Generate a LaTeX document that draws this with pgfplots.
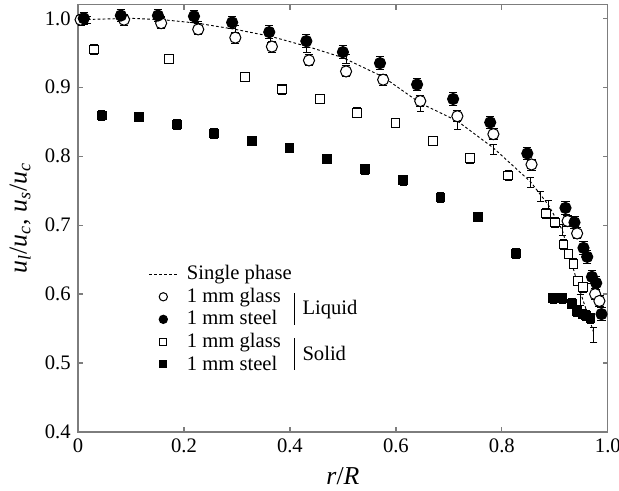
\documentclass[border=0pt]{standalone}
\usepackage{fontspec}
\setmainfont{Liberation Serif}
\usepackage{pgfplots}
\pgfplotsset{compat=1.18}
\definecolor{axgray}{RGB}{125,125,125}
\pgfplotsset{
  smallmark/.style={legend image code/.code={\path (0pt,0pt) (16pt,0pt); \draw[##1, mark size=#1] plot coordinates {(6.8pt,0pt)};}},
  shortline/.style={legend image code/.code={\path (0pt,0pt) (16pt,0pt); \draw[##1] (0pt,0pt) -- (13.6pt,0pt);}},
}

\pgfplotstableread{
x y
0.005 0.998
0.087 0.998
0.157 0.993
0.227 0.984
0.297 0.972
0.366 0.959
0.436 0.939
0.506 0.923
0.576 0.911
0.646 0.880
0.716 0.858
0.784 0.832
0.856 0.788
0.924 0.706
0.942 0.688
0.976 0.600
0.984 0.590
}\glassliq

\pgfplotstableread{
x y
0.011 1.000
0.081 1.004
0.151 1.004
0.219 1.003
0.291 0.994
0.361 0.980
0.431 0.967
0.500 0.951
0.570 0.935
0.640 0.904
0.708 0.883
0.778 0.849
0.848 0.804
0.920 0.725
0.937 0.704
0.954 0.667
0.961 0.654
0.970 0.625
0.978 0.616
0.988 0.571
}\steelliq

\pgfplotstableread{
x y
0.030 0.955
0.172 0.941
0.315 0.915
0.385 0.897
0.457 0.883
0.527 0.863
0.599 0.848
0.670 0.822
0.740 0.797
0.812 0.772
0.883 0.717
0.900 0.704
0.916 0.672
0.926 0.658
0.935 0.644
0.944 0.619
0.953 0.610
}\glasssol

\pgfplotstableread{
x y
0.045 0.859
0.115 0.857
0.187 0.846
0.257 0.833
0.329 0.822
0.399 0.812
0.470 0.796
0.542 0.781
0.614 0.765
0.684 0.740
0.755 0.712
0.827 0.659
0.897 0.594
0.914 0.594
0.932 0.586
0.942 0.575
0.952 0.571
0.959 0.569
0.967 0.565
}\steelsol

\pgfplotstableread{
x y
0.000 0.998
0.050 0.999
0.100 1.000
0.160 0.998
0.225 0.993
0.297 0.984
0.363 0.974
0.438 0.958
0.500 0.943
0.576 0.915
0.646 0.877
0.716 0.851
0.784 0.812
0.854 0.763
0.873 0.744
0.888 0.729
0.914 0.693
0.930 0.650
0.944 0.612
0.958 0.580
0.973 0.545
}\single

\pgfplotstableread{
x y e
0.018 0.997 0.005
0.158 0.997 0.005
0.228 0.990 0.005
0.297 0.983 0.006
0.363 0.971 0.006
0.432 0.957 0.006
0.506 0.941 0.007
0.646 0.872 0.007
0.716 0.846 0.007
0.784 0.810 0.007
0.854 0.762 0.007
0.873 0.742 0.007
0.888 0.729 0.007
0.914 0.693 0.008
0.948 0.591 0.008
0.973 0.541 0.011
}\singleerr

\begin{document}
\begin{tikzpicture}
\begin{axis}[
  scale only axis,
  width=257pt, height=207.3pt,
  xmin=0, xmax=1, ymin=0.4, ymax=1.02,
  xtick={0,0.2,0.4,0.6,0.8,1.0},
  xticklabels={0,0.2,0.4,0.6,0.8,1.0},
  ytick={0.4,0.5,0.6,0.7,0.8,0.9,1.0},
  yticklabels={0.4,0.5,0.6,0.7,0.8,0.9,1.0},
  tick align=inside,
  major tick length=2.5pt,
  axis line style={axgray, line width=0.6pt},
  every tick/.style={axgray, line width=0.6pt},
  tick label style={font=\fontsize{10}{12}\selectfont, black},
  xlabel={\textit{r}/\textit{R}},
  ylabel={\textit{u}\textsubscript{\textit{l}}/\textit{u}\textsubscript{\textit{c}}, \textit{u}\textsubscript{\textit{s}}/\textit{u}\textsubscript{\textit{c}}},
  label style={font=\fontsize{12.5}{14}\selectfont},
  legend cell align=left,
  legend style={at={(axis cs:0.133,0.648)}, anchor=north west, draw=none, fill=none,
    font=\fontsize{10}{11}\selectfont, row sep=-1.5pt, inner sep=0pt},
]
% single phase line
\addplot[black, line width=0.45pt, dash pattern=on 1.3pt off 1.1pt, shortline]
  table[x=x,y=y] {\single};
\addlegendentry{Single phase}

% single phase error bars (no markers)
\addplot[black, only marks, mark=*, mark size=0pt, mark options={draw=none, fill=none}, forget plot,
  error bars/.cd, y dir=both, y explicit,
  error bar style={draw=black, line width=0.45pt},
  error mark options={draw=black, rotate=90, mark size=1.8pt, line width=0.45pt}]
  table[x=x,y=y,y error=e] {\singleerr};

% glass liquid (open circles)
\addplot[black, only marks, mark=*, mark size=2.7pt,
  mark options={fill=white, draw=black, line width=0.5pt},
  smallmark=2pt,
  error bars/.cd, y dir=both, y fixed=0.008,
  error bar style={line width=0.45pt, black},
  error mark options={draw=black, rotate=90, mark size=2pt, line width=0.45pt}]
  table[x=x,y=y] {\glassliq};
\addlegendentry{1 mm glass}

% steel liquid (filled circles)
\addplot[black, only marks, mark=*, mark size=2.7pt,
  mark options={fill=black, draw=black, line width=0.5pt},
  smallmark=2pt,
  error bars/.cd, y dir=both, y fixed=0.009,
  error bar style={line width=0.45pt, black},
  error mark options={draw=black, rotate=90, mark size=2pt, line width=0.45pt}]
  table[x=x,y=y] {\steelliq};
\addlegendentry{1 mm steel}

% glass solid (open squares)
\addplot[black, only marks, mark=square*, mark size=2.1pt,
  mark options={fill=white, draw=black, line width=0.5pt},
  smallmark=1.7pt,
  error bars/.cd, y dir=both, y fixed=0.007,
  error bar style={line width=0.45pt, black},
  error mark options={draw=black, rotate=90, mark size=1.8pt, line width=0.45pt}]
  table[x=x,y=y] {\glasssol};
\addlegendentry{1 mm glass}

% steel solid (filled squares)
\addplot[black, only marks, mark=square*, mark size=2.1pt,
  mark options={fill=black, draw=black, line width=0.5pt},
  smallmark=1.7pt,
  error bars/.cd, y dir=both, y fixed=0.007,
  error bar style={line width=0.45pt, black},
  error mark options={draw=black, rotate=90, mark size=1.8pt, line width=0.45pt}]
  table[x=x,y=y] {\steelsol};
\addlegendentry{1 mm steel}

% group brackets
\draw[black, line width=0.5pt] (axis cs:0.408,0.601) -- (axis cs:0.408,0.555);
\node[anchor=base west, inner sep=0pt, font=\fontsize{10}{11}\selectfont] at (axis cs:0.423,0.570) {Liquid};
\draw[black, line width=0.5pt] (axis cs:0.408,0.536) -- (axis cs:0.408,0.490);
\node[anchor=base west, inner sep=0pt, font=\fontsize{10}{11}\selectfont] at (axis cs:0.423,0.503) {Solid};
\end{axis}
\pgfresetboundingbox
\path (current axis.south west) ++(-37.8pt,-28.6pt) rectangle ++(300.2pt,238.1pt);
\end{tikzpicture}
\end{document}
